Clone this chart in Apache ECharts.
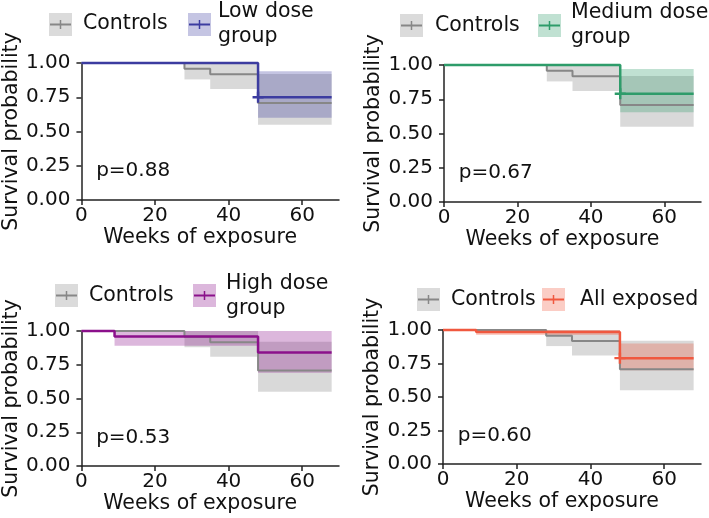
<!DOCTYPE html>
<html>
<head>
<meta charset="utf-8">
<script src="https://cdn.jsdelivr.net/npm/echarts@6/dist/echarts.min.js"></script>
<style>html,body{margin:0;padding:0;background:#fff}#c{width:709px;height:518px}</style>
</head>
<body>
<div id="c"></div>
<script>
// ---- data ----
const xTicks = [0, 20, 40, 60];
const yTicks = [0, 0.25, 0.5, 0.75, 1];
const pValues = ['p=0.88', 'p=0.67', 'p=0.53', 'p=0.60'];
const groupNames = ['Low dose\ngroup', 'Medium dose\ngroup', 'High dose\ngroup', 'All exposed'];

const controlsTime  = [0, 28, 35, 48, 68];
const controlsSurv  = [1, 0.958, 0.917, 0.708, 0.708];
const controlsLower = [1, 0.88, 0.81, 0.55, 0.55];
const controlsUpper = [1, 1, 1, 0.92, 0.92];

const lowTime  = [0, 48, 68];
const lowSurv  = [1, 0.75, 0.75];
const lowLower = [1, 0.60, 0.60];
const lowUpper = [1, 0.94, 0.94];
const lowCensor = [[48, 0.75]];

const medTime  = [0, 48, 68];
const medSurv  = [1, 0.79, 0.79];
const medLower = [1, 0.655, 0.655];
const medUpper = [1, 0.97, 0.97];
const medCensor = [[48, 0.79]];

const highTime  = [0, 9, 48, 68];
const highSurv  = [1, 0.96, 0.84, 0.84];
const highLower = [1, 0.89, 0.69, 0.69];
const highUpper = [1, 1, 1, 1];
const highCensor = [];

const allTime  = [0, 9, 48, 68];
const allSurv  = [1, 0.985, 0.79, 0.79];
const allLower = [1, 0.963, 0.70, 0.70];
const allUpper = [1, 1, 0.90, 0.90];
const allCensor = [[48, 0.79]];

// ---- styling / layout ----
const FONT = 'DejaVu Sans';
const TXT = '#111';
const ctrlColor = '#878787';
const groupColors = ['#3c3ca0', '#2e9c6a', '#8b108b', '#f0583f'];
const groups = [
  {t: lowTime, s: lowSurv, lo: lowLower, hi: lowUpper, c: lowCensor},
  {t: medTime, s: medSurv, lo: medLower, hi: medUpper, c: medCensor},
  {t: highTime, s: highSurv, lo: highLower, hi: highUpper, c: highCensor},
  {t: allTime, s: allSurv, lo: allLower, hi: allUpper, c: allCensor}
];
const grids = [
  {left: 80, top: 63, width: 259, height: 137},
  {left: 444, top: 65, width: 257, height: 137},
  {left: 80, top: 331, width: 259, height: 135},
  {left: 443, top: 330, width: 258, height: 134}
];

function mix(hex, a) {
  const r = parseInt(hex.slice(1,3),16), g = parseInt(hex.slice(3,5),16), b = parseInt(hex.slice(5,7),16);
  const f = v => Math.round(255*(1-a) + v*a);
  return 'rgb(' + f(r) + ',' + f(g) + ',' + f(b) + ')';
}

function zip(t, a) { return t.map((v, i) => [v, a[i]]); }
function bandData(t, lo, hi) {
  const out = [];
  for (let i = 0; i < t.length - 1; i++) out.push([t[i], t[i+1], lo[i], hi[i]]);
  return out;
}
function bandSeries(idx, t, lo, hi, color) {
  return {
    type: 'custom', xAxisIndex: idx, yAxisIndex: idx, silent: true,
    data: bandData(t, lo, hi),
    encode: {x: [0, 1], y: [2, 3]},
    renderItem: function (params, api) {
      const p1 = api.coord([api.value(0), api.value(3)]);
      const p2 = api.coord([api.value(1), api.value(2)]);
      return {type: 'rect', shape: {x: p1[0], y: p1[1], width: p2[0]-p1[0], height: p2[1]-p1[1]},
              style: {fill: color, opacity: 0.3}};
    },
    z: 1
  };
}
const plusPath = 'path://M0,3.9H10V6.1H0Z M3.9,0H6.1V10H3.9Z';

const xAxes = [], yAxes = [], series = [];
grids.forEach((g, i) => {
  xAxes.push({
    type: 'value', gridIndex: i, min: 0, max: 70,
    name: 'Weeks of exposure', nameLocation: 'middle', nameGap: 24,
    nameTextStyle: {fontFamily: FONT, fontSize: 20.5, color: TXT, padding: [0, 20, 0, 0]},
    axisLine: {show: true, onZero: false, lineStyle: {color: '#222', width: 1.5}},
    axisTick: {show: true, length: 5, customValues: xTicks, lineStyle: {color: '#222', width: 1.5}},
    axisLabel: {customValues: xTicks, margin: 6, fontFamily: FONT, fontSize: 20, color: TXT},
    splitLine: {show: false}
  });
  yAxes.push({
    type: 'value', gridIndex: i, min: 0, max: 1,
    name: 'Survival probability', nameLocation: 'middle', nameGap: 57, nameRotate: 90,
    nameTextStyle: {fontFamily: FONT, fontSize: 20.5, color: TXT},
    axisLine: {show: true, onZero: false, lineStyle: {color: '#222', width: 1.5}},
    axisTick: {show: true, length: 5, customValues: yTicks, lineStyle: {color: '#222', width: 1.5}},
    axisLabel: {customValues: yTicks, margin: 11, fontFamily: FONT, fontSize: 20, color: TXT,
                formatter: v => Number(v).toFixed(2)},
    splitLine: {show: false}
  });
  const gr = groups[i];
  const col = groupColors[i];
  series.push(bandSeries(i, controlsTime, controlsLower, controlsUpper, '#808080'));
  series.push(bandSeries(i, gr.t, gr.lo, gr.hi, col));
  series.push({type: 'line', xAxisIndex: i, yAxisIndex: i, step: 'end', clip: false, silent: true,
    data: zip(controlsTime, controlsSurv), showSymbol: false, symbol: 'none',
    lineStyle: {color: ctrlColor, width: 2}, z: 3});
  series.push({type: 'line', xAxisIndex: i, yAxisIndex: i, step: 'end', clip: false, silent: true,
    data: zip(gr.t, gr.s), showSymbol: false, symbol: 'none',
    lineStyle: {color: col, width: 2.5}, z: 4});
  series.push({type: 'scatter', xAxisIndex: i, yAxisIndex: i, silent: true, clip: false,
    data: gr.c, symbol: plusPath, symbolSize: 11, itemStyle: {color: col, opacity: 1}, z: 5});
  series.push({type: 'scatter', xAxisIndex: i, yAxisIndex: i, silent: true, symbolSize: 0,
    data: [[4, 0.21]], itemStyle: {opacity: 1},
    label: {show: true, position: 'right', distance: 0, formatter: pValues[i], opacity: 1,
            fontFamily: FONT, fontSize: 20, color: TXT}, z: 6});
});

// ---- legends (drawn as graphics) ----
const legendLayout = [
  {ctrl: [49, 13], ctrlText: [83, 24], grp: [188, 13], grpText: [218, 24.5]},
  {ctrl: [400, 14], ctrlText: [435, 25.5], grp: [538, 14], grpText: [571, 25.5]},
  {ctrl: [55, 284], ctrlText: [89, 295.5], grp: [193, 284], grpText: [226, 296]},
  {ctrl: [417, 288], ctrlText: [451, 299.5], grp: [542, 288], grpText: [580, 299.5]}
];
function keyGroup(x, y, lineCol) {
  return [
    {type: 'rect', shape: {x: x, y: y, width: 23, height: 23}, style: {fill: mix(lineCol, 0.3)}},
    {type: 'line', shape: {x1: x + 1, y1: y + 11.5, x2: x + 22, y2: y + 11.5}, style: {stroke: lineCol, lineWidth: 2}},
    {type: 'line', shape: {x1: x + 11.5, y1: y + 7, x2: x + 11.5, y2: y + 16}, style: {stroke: lineCol, lineWidth: 1.5}}
  ];
}
const graphics = [];
legendLayout.forEach((L, i) => {
  graphics.push(...keyGroup(L.ctrl[0], L.ctrl[1], ctrlColor));
  graphics.push({type: 'text', x: L.ctrlText[0], y: L.ctrlText[1],
    style: {text: 'Controls', font: '20.5px "' + FONT + '"', fill: TXT, align: 'left', verticalAlign: 'middle'}});
  graphics.push(...keyGroup(L.grp[0], L.grp[1], groupColors[i]));
  graphics.push({type: 'text', x: L.grpText[0], y: L.grpText[1],
    style: {text: groupNames[i], font: '20.5px "' + FONT + '"', fill: TXT, align: 'left', verticalAlign: 'middle', lineHeight: 25}});
});

const chart = echarts.init(document.getElementById('c'), null, {renderer: 'canvas'});
chart.setOption({
  animation: false,
  backgroundColor: '#fff',
  grid: grids,
  xAxis: xAxes,
  yAxis: yAxes,
  series: series,
  graphic: graphics
});
</script>
</body>
</html>
